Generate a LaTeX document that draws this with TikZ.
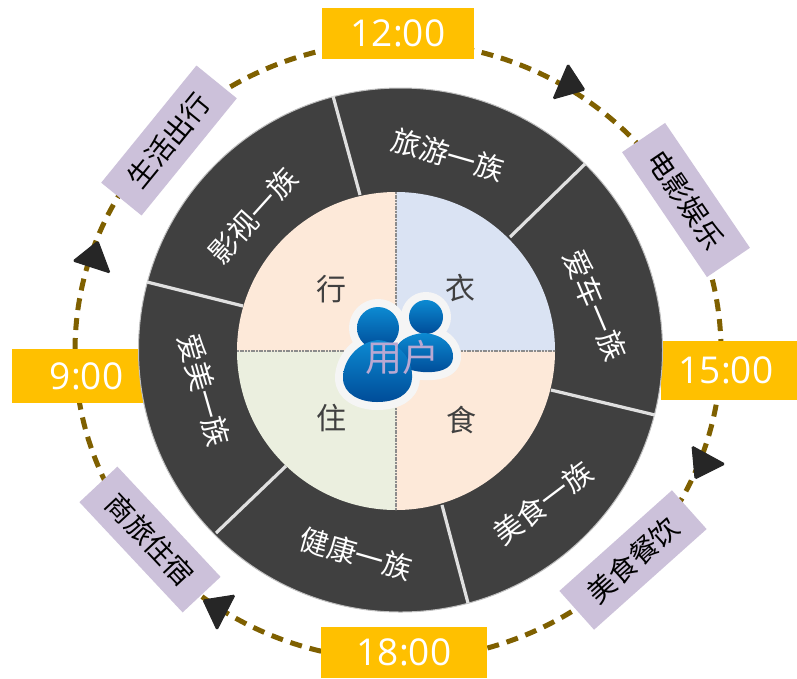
\documentclass[tikz,border=0pt]{standalone}
\usepackage{fontspec}
\setmainfont{Open Sans}
\newfontfamily\cjk{Noto Sans CJK SC}
\newfontfamily\numfont{Open Sans}
\definecolor{ringc}{HTML}{7F6000}
\definecolor{goldc}{HTML}{FFC000}
\definecolor{purplec}{HTML}{CCC1DA}
\definecolor{darkc}{HTML}{404040}
\definecolor{divc}{HTML}{E0E0E0}
\definecolor{bluec}{HTML}{DAE3F3}
\definecolor{peachc}{HTML}{FDE9D9}
\definecolor{greenc}{HTML}{EBEFDF}
\definecolor{userc}{HTML}{B9A8D2}
\definecolor{figtop}{HTML}{0C8AD2}
\definecolor{figbot}{HTML}{004C98}
\tikzset{
  x=1pt,y=-1pt,
  timebox/.style={fill=goldc,text=white,inner sep=0pt,font=\numfont\fontsize{37}{37}\selectfont},
  catbox/.style={fill=purplec,text=black,inner sep=0pt,minimum width=151pt,minimum height=52pt,font=\cjk\fontsize{28}{28}\selectfont},
  segtext/.style={text=white,inner sep=0pt,font=\cjk\fontsize{29}{29}\selectfont},
  innertext/.style={text=darkc,inner sep=0pt,font=\cjk\fontsize{30}{30}\selectfont},
  tri/.style={fill=black!85,draw=black!85,line width=1pt,rounded corners=1.5pt},
  divider/.style={divc,line width=3.2pt},
  seam/.style={black!45,line width=2.6pt,dash pattern=on 2pt off 0.7pt},
  halo/.style={draw=black!4,fill=black!4,line width=16pt,line join=round},
  figure/.style={top color=figtop,bottom color=figbot}
}
\begin{document}
\begin{tikzpicture}
\useasboundingbox (0,0) rectangle (797,678);
\fill[white] (0,0) rectangle (797,678);
% ring
\coordinate (ringc) at (398,351);
\draw[ringc,line width=5pt,dash pattern=on 12pt off 8pt] (ringc) ellipse [x radius=323pt,y radius=309pt];
% arrowheads
\draw[tri] (568,64) -- (585,90) -- (553,99) -- cycle;
\draw[tri] (692,446) -- (725,464) -- (695,479) -- cycle;
\draw[tri] (235,595) -- (203,600) -- (217,630) -- cycle;
\draw[tri] (98,241) -- (110,273) -- (73,261) -- cycle;
% time boxes
\node[timebox,minimum width=152pt,minimum height=51pt] (t12) at (398,33.5) {12:00};
\node[timebox,minimum width=136pt,minimum height=59pt] (t15) at (729,370.5) {\hspace{-6pt}15:00};
\node[timebox,minimum width=166pt,minimum height=51pt] (t18) at (404,652.5) {18:00};
\node[timebox,minimum width=131pt,minimum height=54pt] (t9) at (77.5,376) {\hspace{18pt}9:00};
% category boxes
\node[catbox,rotate=-55.8] (c1) at (686,200) {电影娱乐};
\node[catbox,rotate=41.8] (c2) at (633,560) {美食餐饮};
\node[catbox,rotate=-46.9] (c3) at (150,539.5) {商旅住宿};
\node[catbox,rotate=50.9] (c4) at (169,140.5) {生活出行};
% dark disc
\coordinate (discc) at (400.5,350);
\fill[darkc] (discc) circle [radius=262pt];
\draw[black!25,line width=1pt] (discc) circle [radius=262pt];
% dividers
\draw[divider] (333,96) -- (360,195);
\draw[divider] (585,164) -- (510,237);
\draw[divider] (655,415) -- (551,390);
\draw[divider] (442,505) -- (468,603);
\draw[divider] (286,466) -- (216,533);
\draw[divider] (147,282) -- (243,306);
% inner quadrants
\coordinate (ic) at (396,351);
\fill[bluec] (ic) -- (396,192) arc [start angle=90,end angle=0,radius=159pt] -- cycle;
\fill[peachc] (ic) -- (555,351) arc [start angle=0,end angle=-90,radius=159pt] -- cycle;
\fill[greenc] (ic) -- (396,510) arc [start angle=-90,end angle=-180,radius=159pt] -- cycle;
\fill[peachc] (ic) -- (237,351) arc [start angle=180,end angle=90,radius=159pt] -- cycle;
\draw[seam] (396,192) -- (396,510);
\draw[seam] (237,351) -- (555,351);
% segment labels
\node[segtext,rotate=-16] (s1) at (448,155) {旅游一族};
\node[segtext,rotate=-67] (s2) at (595,305) {爱车一族};
\node[segtext,rotate=37] (s3) at (543,503) {美食一族};
\node[segtext,rotate=-16] (s4) at (356,554) {健康一族};
\node[segtext,rotate=-74] (s5) at (204,390) {爱美一族};
\node[segtext,rotate=48] (s6) at (253,216) {影视一族};
% inner labels
\node[innertext] (q1) at (460,288) {衣};
\node[innertext] (q2) at (461,420) {食};
\node[innertext] (q3) at (331,418) {住};
\node[innertext] (q4) at (331,289) {行};
% user icon: halos
\path[halo] (426,317) circle [radius=17pt];
\path[halo] (424,333) .. controls (442,334) and (454,345) .. (453,358) .. controls (452,370) and (437,373) .. (423,372) .. controls (408,371) and (395,365) .. (395,352) .. controls (396,342) and (408,334) .. (424,333) -- cycle;
\path[halo] (378,328) circle [radius=21pt];
\path[halo] (378,340) .. controls (400,342) and (413,360) .. (412,378) .. controls (411,396) and (394,402) .. (377,402) .. controls (360,402) and (343,394) .. (343,378) .. controls (343,360) and (358,342) .. (378,340) -- cycle;
% user icon: fills
\shade[figure] (426,317) circle [radius=17pt];
\shade[figure] (424,333) .. controls (442,334) and (454,345) .. (453,358) .. controls (452,370) and (437,373) .. (423,372) .. controls (408,371) and (395,365) .. (395,352) .. controls (396,342) and (408,334) .. (424,333) -- cycle;
\shade[figure] (378,328) circle [radius=21pt];
\shade[figure] (378,340) .. controls (400,342) and (413,360) .. (412,378) .. controls (411,396) and (394,402) .. (377,402) .. controls (360,402) and (343,394) .. (343,378) .. controls (343,360) and (358,342) .. (378,340) -- cycle;
\node[text=userc,inner sep=0pt,font=\cjk\fontsize{37}{37}\selectfont] (user) at (402,357) {用户};
\end{tikzpicture}
\end{document}
